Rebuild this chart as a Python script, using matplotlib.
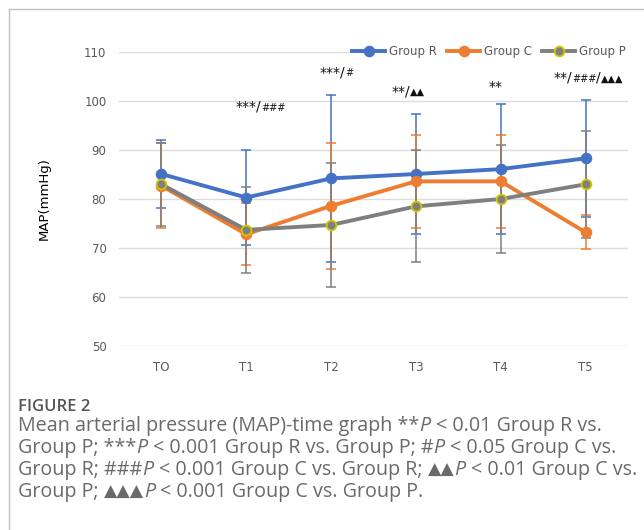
import matplotlib.pyplot as plt
from matplotlib.lines import Line2D

# values
time_points = ["TO", "T1", "T2", "T3", "T4", "T5"]

group_r = [85.1, 80.3, 84.2, 85.1, 86.1, 88.3]
group_r_sd = [7.0, 9.6, 17.0, 12.3, 13.2, 12.0]

group_c = [82.7, 72.8, 78.6, 83.6, 83.6, 73.2]
group_c_sd = [8.7, 6.3, 12.9, 9.5, 9.5, 3.5]

group_p = [83.0, 73.7, 74.7, 78.5, 80.0, 83.0]
group_p_sd = [8.5, 8.8, 12.6, 11.4, 11.1, 10.9]

# significance marks: (x position, y position, [(text, kind)])
# kind: "n" normal size, "s" small
sig_marks = [
    (0.87, 98.0, [("***/", "n"), ("###", "s")]),
    (1.86, 105.1, [("***/", "n"), ("#", "s")]),
    (2.71, 101.2, [("**/", "n"), ("▲▲", "s")]),
    (3.86, 102.1, [("**", "n")]),
    (4.62, 103.9, [("**/", "n"), ("###", "s"), ("/", "n"), ("▲▲▲", "s")]),
]

caption_title = "FIGURE 2"
# kind: "n" normal, "i" italic, "t" triangle symbols
caption_lines = [
    [("Mean arterial pressure (MAP)-time graph **", "n"), ("P", "i"),
     (" < 0.01 Group R vs.", "n")],
    [("Group P; ***", "n"), ("P", "i"),
     (" < 0.001 Group R vs. Group P; #", "n"), ("P", "i"),
     (" < 0.05 Group C vs.", "n")],
    [("Group R; ###", "n"), ("P", "i"),
     (" < 0.001 Group C vs. Group R;", "n"), (" ▲▲", "t"), ("P", "i"),
     (" < 0.01 Group C vs.", "n")],
    [("Group P;", "n"), (" ▲▲▲", "t"), ("P", "i"),
     (" < 0.001 Group C vs. Group P.", "n")],
]

BLUE = "#4472C4"
ORANGE = "#ED7D31"
GRAY = "#7F7F7F"
YELLOW = "#D2C600"

W, H = 644, 530
fig = plt.figure(figsize=(W / 100, H / 100), dpi=100)

# axes placed in pixel terms of the reference
left, right, top, bottom = 119, 628, 52, 346
ax = fig.add_axes([left / W, 1 - bottom / H, (right - left) / W, (bottom - top) / H])

x = list(range(len(time_points)))

series = [
    ("Group R", group_r, group_r_sd, BLUE, BLUE),
    ("Group C", group_c, group_c_sd, ORANGE, ORANGE),
    ("Group P", group_p, group_p_sd, GRAY, YELLOW),
]

for name, vals, sd, col, edge in series:
    ax.errorbar(x, vals, yerr=sd, fmt="none", ecolor=col, elinewidth=1.1,
                capsize=3.5, capthick=1.1, zorder=2)

for name, vals, sd, col, edge in series:
    ax.plot(x, vals, color=col, lw=2.8, marker="o", ms=7,
            markerfacecolor=col, markeredgecolor=edge, markeredgewidth=1.3,
            label=name, zorder=3)

ax.set_xlim(-0.5, len(time_points) - 0.5)
ax.set_ylim(50, 110)
ax.set_yticks(range(50, 111, 10))
ax.set_xticks(x)
ax.set_xticklabels(time_points)
ax.grid(axis="y", color="#DCDCDC", lw=1)
ax.set_axisbelow(True)
for s in ax.spines.values():
    s.set_visible(False)
ax.tick_params(length=0, labelsize=8.5, labelcolor="#595959")
ax.tick_params(axis="x", pad=11)
ax.tick_params(axis="y", pad=9)
ax.set_ylabel("MAP(mmHg)", fontsize=9.5, labelpad=24)

leg = ax.legend(loc="center right", bbox_to_anchor=(1.0, 1.0), ncol=3,
                frameon=True, fontsize=8.5, handlelength=2.8, columnspacing=0.9,
                handletextpad=0.3, borderpad=0.2, borderaxespad=0)
leg.get_frame().set_facecolor("white")
leg.get_frame().set_edgecolor("none")
leg.get_frame().set_alpha(1)
for t in leg.get_texts():
    t.set_color("#595959")


def draw_runs(xy, coords, runs, size, color, family):
    """Draw text pieces one after another on a shared baseline."""
    prev = None
    for text, kind in runs:
        gap = 0
        if text.startswith(" "):
            gap = 0.27 * size
            text = text.lstrip(" ")
        fs = size
        style = "normal"
        if kind == "s":
            fs = size * 0.7
        elif kind == "t":
            fs = size * 0.88
        elif kind == "i":
            style = "italic"
        kw = dict(fontsize=fs, color=color, style=style, ha="left", va="baseline",
                  family=family, annotation_clip=False)
        if prev is None:
            prev = ax.annotate(text, xy=xy, xycoords=coords, **kw)
        else:
            prev = ax.annotate(text, xy=(1, xy[1]), xycoords=(prev, coords),
                               xytext=(gap, 0), textcoords="offset points", **kw)
    return prev


for xm, ym, runs in sig_marks:
    draw_runs((xm, ym), "data", runs, 10, "#111111", ["DejaVu Sans"])

# caption
fig.text(18 / W, 1 - 411 / H, caption_title, fontsize=12, color="#555555",
         family="Open Sans", weight="semibold", va="baseline")
line_y = [431, 453, 475, 497]
for yy, runs in zip(line_y, caption_lines):
    draw_runs((18 / W, 1 - yy / H), "figure fraction", runs, 14.2, "#6A6A6A",
              ["Open Sans", "DejaVu Sans"])

# thin frame around the figure (left and top edges)
fig.add_artist(Line2D([9 / W, 9 / W], [0, 1 - 9 / H], color="#C0C0C0", lw=1))
fig.add_artist(Line2D([9 / W, 1], [1 - 9 / H, 1 - 9 / H], color="#C0C0C0", lw=1))

fig.savefig("out.png", dpi=100)
